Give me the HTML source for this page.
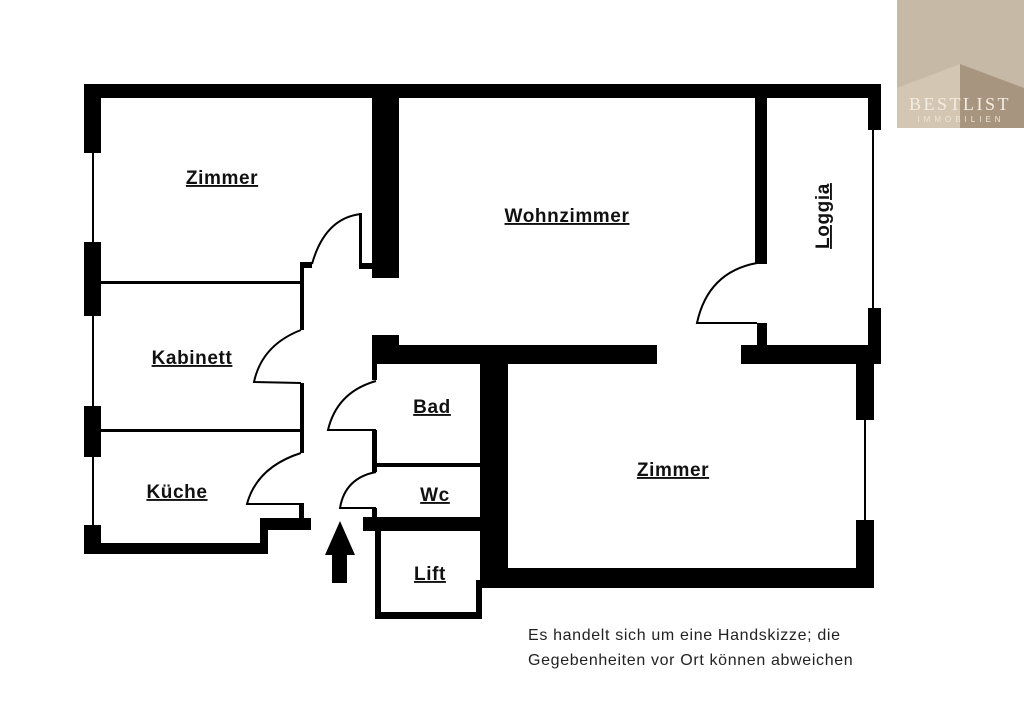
<!DOCTYPE html>
<html><head><meta charset="utf-8"><style>
html,body{margin:0;padding:0;background:#fff;}
svg{display:block;}
.l{font-family:"Liberation Sans",sans-serif;font-weight:bold;font-size:19px;letter-spacing:0.6px;text-decoration:underline;fill:#111;}
</style></head><body>
<svg width="1024" height="723" viewBox="0 0 1024 723" xmlns="http://www.w3.org/2000/svg">
<rect width="1024" height="723" fill="#fff"/>
<rect x="897" y="0" width="127" height="128" fill="#c6b9a6"/>
<polygon points="897,88 960,64 960,128 897,128" fill="#d3c6b3"/>
<polygon points="960,64 1024,88 1024,128 960,128" fill="#a8957f"/>
<text x="960" y="110" text-anchor="middle" font-family="Liberation Serif,serif" font-size="18" fill="#f3ece0" letter-spacing="2.5">BESTLIST</text>
<text x="961" y="122" text-anchor="middle" font-family="Liberation Sans,sans-serif" font-size="8" fill="#eee5d6" letter-spacing="4">IMMOBILIEN</text>
<g fill="#000">
<rect x="84" y="84" width="797" height="14"/>
<rect x="84" y="84" width="17" height="69"/>
<rect x="84" y="242" width="17" height="74"/>
<rect x="84" y="406" width="17" height="51"/>
<rect x="84" y="525" width="17" height="28"/>
<rect x="92" y="150" width="2" height="380"/>
<rect x="84" y="543" width="184" height="11"/>
<rect x="260" y="518" width="8" height="36"/>
<rect x="260" y="518" width="51" height="12"/>
<rect x="299" y="503" width="5" height="16"/>
<rect x="300" y="262" width="4" height="68"/>
<rect x="300" y="262" width="12" height="6"/>
<rect x="300" y="383" width="4" height="70"/>
<rect x="101" y="281" width="200" height="3"/>
<rect x="101" y="429" width="200" height="3"/>
<rect x="372" y="98" width="27" height="180"/>
<rect x="359" y="213" width="3" height="55"/>
<rect x="359" y="263" width="14" height="6"/>
<rect x="372" y="335" width="27" height="15"/>
<rect x="372" y="345" width="285" height="19"/>
<rect x="372" y="345" width="5" height="35"/>
<rect x="372" y="430" width="5" height="42"/>
<rect x="377" y="463" width="103" height="4"/>
<rect x="372" y="508" width="5" height="12"/>
<rect x="363" y="517" width="117" height="14"/>
<rect x="480" y="364" width="28" height="224"/>
<rect x="480" y="568" width="394" height="20"/>
<rect x="375" y="531" width="6" height="88"/>
<rect x="375" y="612" width="107" height="7"/>
<rect x="476" y="580" width="6" height="39"/>
<rect x="755" y="98" width="12" height="166"/>
<rect x="757" y="323" width="10" height="25"/>
<rect x="741" y="345" width="140" height="19"/>
<rect x="868" y="84" width="13" height="46"/>
<rect x="872" y="130" width="2" height="180"/>
<rect x="868" y="308" width="13" height="56"/>
<rect x="856" y="364" width="18" height="56"/>
<rect x="864" y="420" width="2" height="100"/>
<rect x="856" y="520" width="18" height="68"/>
<polygon points="340,521 355,555 347,555 347,583 332,583 332,555 325,555"/>
</g>
<g fill="none" stroke="#000" stroke-width="2">
<path d="M312,264 Q325,218 361,214"/>
<path d="M301,330 Q262,345 254,382 L301,383"/>
<path d="M301,453 Q257,467 247,504 L301,504"/>
<path d="M376,381 Q337,392 328,430 L376,430"/>
<path d="M376,472 Q345,478 340,508 L376,508"/>
<path d="M757,263 Q708,272 697,323 L757,323"/>
</g>
<text class="l" x="222" y="184" text-anchor="middle">Zimmer</text>
<text class="l" x="567" y="222" text-anchor="middle">Wohnzimmer</text>
<text class="l" x="192" y="364" text-anchor="middle">Kabinett</text>
<text class="l" x="177" y="498" text-anchor="middle">Küche</text>
<text class="l" x="432" y="413" text-anchor="middle">Bad</text>
<text class="l" x="435" y="501" text-anchor="middle">Wc</text>
<text class="l" x="430" y="580" text-anchor="middle">Lift</text>
<text class="l" x="673" y="476" text-anchor="middle">Zimmer</text>
<text class="l" x="0" y="0" text-anchor="middle" transform="translate(829,216) rotate(-90)">Loggia</text>
<text x="528" y="640" font-family="Liberation Sans,sans-serif" font-size="16" letter-spacing="0.65" fill="#222">Es handelt sich um eine Handskizze; die</text>
<text x="528" y="665" font-family="Liberation Sans,sans-serif" font-size="16" letter-spacing="0.65" fill="#222">Gegebenheiten vor Ort können abweichen</text>
</svg>
</body></html>
